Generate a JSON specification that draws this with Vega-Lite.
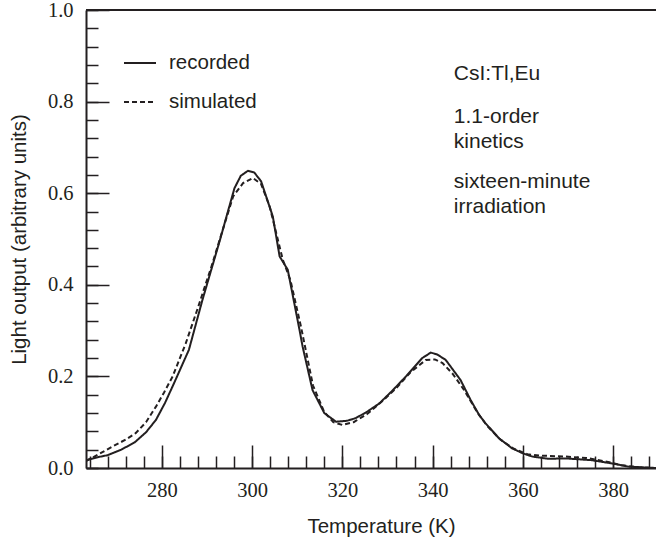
{
  "$schema": "https://vega.github.io/schema/vega-lite/v6.json",
  "width": 570,
  "height": 458,
  "autosize": {"type": "none"},
  "padding": {"left": 86, "top": 10, "right": 0, "bottom": 75},
  "background": "white",
  "config": {"view": {"stroke": null}, "font": "Liberation Sans"},
  "resolve": {"axis": {"x": "independent", "y": "independent"}},
  "datasets": {
    "curves": [
      {"T": 263.2, "v": 0.017, "series": "recorded"},
      {"T": 266, "v": 0.024, "series": "recorded"},
      {"T": 268, "v": 0.028, "series": "recorded"},
      {"T": 271, "v": 0.040, "series": "recorded"},
      {"T": 274, "v": 0.056, "series": "recorded"},
      {"T": 276.5, "v": 0.078, "series": "recorded"},
      {"T": 278.7, "v": 0.105, "series": "recorded"},
      {"T": 280.7, "v": 0.142, "series": "recorded"},
      {"T": 282.7, "v": 0.185, "series": "recorded"},
      {"T": 286, "v": 0.258, "series": "recorded"},
      {"T": 289, "v": 0.367, "series": "recorded"},
      {"T": 292.8, "v": 0.495, "series": "recorded"},
      {"T": 294.5, "v": 0.555, "series": "recorded"},
      {"T": 296.1, "v": 0.611, "series": "recorded"},
      {"T": 297.5, "v": 0.638, "series": "recorded"},
      {"T": 299.1, "v": 0.649, "series": "recorded"},
      {"T": 300.5, "v": 0.645, "series": "recorded"},
      {"T": 302, "v": 0.626, "series": "recorded"},
      {"T": 304.6, "v": 0.549, "series": "recorded"},
      {"T": 306.1, "v": 0.462, "series": "recorded"},
      {"T": 307.9, "v": 0.433, "series": "recorded"},
      {"T": 310.5, "v": 0.302, "series": "recorded"},
      {"T": 311.2, "v": 0.265, "series": "recorded"},
      {"T": 313.4, "v": 0.170, "series": "recorded"},
      {"T": 316, "v": 0.120, "series": "recorded"},
      {"T": 318.6, "v": 0.101, "series": "recorded"},
      {"T": 321, "v": 0.103, "series": "recorded"},
      {"T": 323, "v": 0.109, "series": "recorded"},
      {"T": 325.5, "v": 0.123, "series": "recorded"},
      {"T": 328.2, "v": 0.141, "series": "recorded"},
      {"T": 331, "v": 0.168, "series": "recorded"},
      {"T": 334.1, "v": 0.200, "series": "recorded"},
      {"T": 337.7, "v": 0.240, "series": "recorded"},
      {"T": 339.6, "v": 0.252, "series": "recorded"},
      {"T": 341, "v": 0.248, "series": "recorded"},
      {"T": 342.9, "v": 0.236, "series": "recorded"},
      {"T": 346.2, "v": 0.192, "series": "recorded"},
      {"T": 348.4, "v": 0.149, "series": "recorded"},
      {"T": 350.3, "v": 0.116, "series": "recorded"},
      {"T": 351.7, "v": 0.098, "series": "recorded"},
      {"T": 354.7, "v": 0.065, "series": "recorded"},
      {"T": 357.6, "v": 0.043, "series": "recorded"},
      {"T": 360, "v": 0.032, "series": "recorded"},
      {"T": 362.1, "v": 0.025, "series": "recorded"},
      {"T": 365.7, "v": 0.020, "series": "recorded"},
      {"T": 369.4, "v": 0.021, "series": "recorded"},
      {"T": 375.3, "v": 0.017, "series": "recorded"},
      {"T": 379.7, "v": 0.010, "series": "recorded"},
      {"T": 383.4, "v": 0.003, "series": "recorded"},
      {"T": 389.5, "v": 0.0, "series": "recorded"},
      {"T": 263.2, "v": 0.015, "series": "simulated"},
      {"T": 266, "v": 0.030, "series": "simulated"},
      {"T": 269.1, "v": 0.047, "series": "simulated"},
      {"T": 272, "v": 0.062, "series": "simulated"},
      {"T": 274.2, "v": 0.076, "series": "simulated"},
      {"T": 276.5, "v": 0.100, "series": "simulated"},
      {"T": 278.7, "v": 0.134, "series": "simulated"},
      {"T": 280.5, "v": 0.165, "series": "simulated"},
      {"T": 282.4, "v": 0.200, "series": "simulated"},
      {"T": 285.3, "v": 0.272, "series": "simulated"},
      {"T": 288, "v": 0.350, "series": "simulated"},
      {"T": 291, "v": 0.440, "series": "simulated"},
      {"T": 293.5, "v": 0.520, "series": "simulated"},
      {"T": 295.8, "v": 0.593, "series": "simulated"},
      {"T": 298, "v": 0.622, "series": "simulated"},
      {"T": 300.2, "v": 0.633, "series": "simulated"},
      {"T": 302, "v": 0.620, "series": "simulated"},
      {"T": 303.9, "v": 0.571, "series": "simulated"},
      {"T": 306.8, "v": 0.455, "series": "simulated"},
      {"T": 308.5, "v": 0.410, "series": "simulated"},
      {"T": 310.8, "v": 0.310, "series": "simulated"},
      {"T": 313.5, "v": 0.180, "series": "simulated"},
      {"T": 316, "v": 0.122, "series": "simulated"},
      {"T": 318, "v": 0.100, "series": "simulated"},
      {"T": 320, "v": 0.094, "series": "simulated"},
      {"T": 322.5, "v": 0.100, "series": "simulated"},
      {"T": 325.5, "v": 0.118, "series": "simulated"},
      {"T": 329, "v": 0.147, "series": "simulated"},
      {"T": 332, "v": 0.175, "series": "simulated"},
      {"T": 335, "v": 0.208, "series": "simulated"},
      {"T": 338.5, "v": 0.236, "series": "simulated"},
      {"T": 340.5, "v": 0.237, "series": "simulated"},
      {"T": 342.2, "v": 0.229, "series": "simulated"},
      {"T": 344.5, "v": 0.205, "series": "simulated"},
      {"T": 347, "v": 0.170, "series": "simulated"},
      {"T": 350, "v": 0.120, "series": "simulated"},
      {"T": 352, "v": 0.093, "series": "simulated"},
      {"T": 355, "v": 0.062, "series": "simulated"},
      {"T": 358, "v": 0.042, "series": "simulated"},
      {"T": 361, "v": 0.030, "series": "simulated"},
      {"T": 364, "v": 0.027, "series": "simulated"},
      {"T": 369.4, "v": 0.025, "series": "simulated"},
      {"T": 374, "v": 0.022, "series": "simulated"},
      {"T": 378, "v": 0.015, "series": "simulated"},
      {"T": 382, "v": 0.006, "series": "simulated"},
      {"T": 386, "v": 0.001, "series": "simulated"},
      {"T": 389.5, "v": 0.0, "series": "simulated"}
    ],
    "notes": [
      {"T": 344.7, "v": 0.848, "label": "CsI:Tl,Eu"},
      {"T": 344.7, "v": 0.754, "label": "1.1-order"},
      {"T": 344.7, "v": 0.699, "label": "kinetics"},
      {"T": 344.7, "v": 0.612, "label": "sixteen-minute"},
      {"T": 344.7, "v": 0.557, "label": "irradiation"}
    ]
  },
  "layer": [
    {
      "data": {"name": "curves"},
      "mark": {"type": "line", "strokeWidth": 2, "color": "#231f20", "clip": true},
      "encoding": {
        "x": {
          "field": "T", "type": "quantitative",
          "scale": {"domain": [263.2, 389.5], "nice": false, "zero": false},
          "axis": {
            "orient": "bottom",
            "values": [264,268,272,276,280,284,288,292,296,300,304,308,312,316,320,324,328,332,336,340,344,348,352,356,360,364,368,372,376,380,384,388],
            "tickCount": 200,
            "format": "d",
            "labelExpr": "datum.value % 20 === 0 ? datum.label : ''",
            "tickSize": -12,
            "tickWidth": 1.5, "tickColor": "#231f20",
            "domainWidth": 2, "domainColor": "#231f20",
            "grid": false,
            "labelFont": "Liberation Serif", "labelFontSize": 20.5, "labelColor": "#231f20",
            "labelPadding": 24, "labelFlush": false, "labelOverlap": false, "labelBound": false,
            "title": "Temperature (K)",
            "titleFont": "Liberation Sans", "titleFontSize": 20.5, "titleFontWeight": "normal", "titleColor": "#231f20",
            "titleX": 295, "titleY": 64, "titleBaseline": "alphabetic", "titleAlign": "center"
          }
        },
        "y": {
          "field": "v", "type": "quantitative",
          "scale": {"domain": [0, 1], "nice": false, "zero": false},
          "axis": {
            "orient": "left",
            "values": [0,0.04,0.08,0.12,0.16,0.2,0.24,0.28,0.32,0.36,0.4,0.44,0.48,0.52,0.56,0.6,0.64,0.68,0.72,0.76,0.8,0.84,0.88,0.92,0.96,1],
            "tickCount": 200,
            "format": ".1f",
            "labelExpr": "abs(datum.value*5 - round(datum.value*5)) < 0.000001 ? datum.label : ''",
            "tickSize": -12,
            "tickWidth": 1.5, "tickColor": "#231f20",
            "domainWidth": 2, "domainColor": "#231f20",
            "grid": false,
            "labelFont": "Liberation Serif", "labelFontSize": 20.5, "labelColor": "#231f20",
            "labelPadding": 25, "labelFlush": false, "labelOverlap": false, "labelBound": false,
            "title": "Light output (arbitrary units)",
            "titleFont": "Liberation Sans", "titleFontSize": 20.5, "titleFontWeight": "normal", "titleColor": "#231f20",
            "titleX": -61, "titleY": 229, "titleBaseline": "alphabetic", "titleAlign": "center", "titleAngle": -90
          }
        },
        "strokeDash": {
          "field": "series", "type": "nominal",
          "scale": {"domain": ["recorded", "simulated"], "range": [[1, 0], [5, 3]]},
          "legend": {
            "orient": "none", "legendX": 37, "legendY": 36,
            "title": null, "padding": 0,
            "symbolType": "stroke", "symbolSize": 1024, "symbolStrokeWidth": 2, "symbolStrokeColor": "#231f20",
            "labelFont": "Liberation Sans", "labelFontSize": 20.5, "labelColor": "#231f20",
            "labelOffset": 12, "rowPadding": 11
          }
        }
      }
    },
    {
      "data": {"name": "notes"},
      "mark": {"type": "text", "align": "left", "baseline": "alphabetic", "font": "Liberation Sans", "fontSize": 21, "color": "#231f20"},
      "encoding": {
        "x": {
          "field": "T", "type": "quantitative",
          "axis": {
            "orient": "bottom",
            "values": [280, 300, 320, 340, 360, 380],
            "tickCount": 200,
            "tickSize": -23, "tickWidth": 1.5, "tickColor": "#231f20",
            "labels": false, "domain": false, "grid": false, "title": null
          }
        },
        "y": {
          "field": "v", "type": "quantitative",
          "axis": {
            "orient": "left",
            "values": [0, 0.2, 0.4, 0.6, 0.8, 1],
            "tickCount": 200,
            "tickSize": -23, "tickWidth": 1.5, "tickColor": "#231f20",
            "labels": false, "domain": false, "grid": false, "title": null
          }
        },
        "text": {"field": "label"}
      }
    },
    {
      "data": {"values": [{}]},
      "mark": {"type": "rule", "strokeWidth": 2, "color": "#231f20"},
      "encoding": {"y": {"datum": 1, "axis": null}}
    }
  ]
}
